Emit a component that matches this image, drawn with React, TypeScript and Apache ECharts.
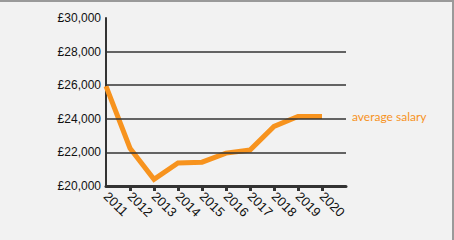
import React, { useEffect, useRef } from "react";
import * as echarts from "echarts";

const years = [2011, 2012, 2013, 2014, 2015, 2016, 2017, 2018, 2019, 2020];
const salary = [25950, 22250, 20400, 21370, 21420, 21960, 22140, 23550, 24140, 24140];
const gridValues = [22000, 24000, 26000, 28000];
const seriesName = "average salary";

export default function App() {
  const ref = useRef<HTMLDivElement>(null);
  useEffect(() => {
    if (!ref.current) return;
    const chart = echarts.init(ref.current, null, { renderer: "svg" });
    chart.setOption({
      animation: false,
      backgroundColor: "#f2f2f2",
      grid: { left: 106, right: 108, top: 18, bottom: 54 },
      xAxis: {
        type: "value",
        min: 2011,
        max: 2021,
        interval: 1,
        splitLine: { show: false },
        axisLine: { show: true, lineStyle: { color: "#333", width: 3 } },
        axisTick: {
          show: true,
          customValues: years.slice(1),
          length: 5,
          inside: false,
          lineStyle: { color: "#333", width: 3 },
        },
        axisLabel: {
          customValues: years,
          rotate: -45,
          margin: 8,
          color: "#111",
          fontFamily: "Liberation Sans, Arial, sans-serif",
          fontSize: 13,
          formatter: (v: number) => String(v),
        },
      },
      yAxis: {
        type: "value",
        min: 20000,
        max: 30000,
        interval: 2000,
        splitLine: { show: false },
        axisLine: { show: true, lineStyle: { color: "#333", width: 2 } },
        axisTick: { show: false },
        axisLabel: {
          margin: 5,
          color: "#111",
          fontFamily: "Liberation Sans, Arial, sans-serif",
          fontSize: 12,
          formatter: (v: number) => "£" + v.toLocaleString("en-GB"),
        },
      },
      series: [
        {
          type: "line",
          z: 1,
          data: [],
          silent: true,
          markLine: {
            silent: true,
            symbol: "none",
            label: { show: false },
            lineStyle: { color: "#333", width: 1.5, type: "solid" },
            data: gridValues.map((v) => ({ yAxis: v })),
          },
        },
        {
          type: "line",
          name: seriesName,
          z: 3,
          data: years.map((y, i) => [y, salary[i]]),
          showSymbol: false,
          lineStyle: { color: "#f7931e", width: 5, join: "miter" },
          itemStyle: { color: "#f7931e" },
          endLabel: {
            show: true,
            formatter: seriesName,
            distance: 30,
            color: "#f7931e",
            fontFamily: "Lato, sans-serif",
            fontSize: 12,
          },
        },
      ],
    });
    return () => chart.dispose();
  }, []);
  return (
    <div style={{ position: "fixed", left: 0, top: 0, width: 454, height: 240, background: "#f2f2f2" }}>
      <div ref={ref} style={{ position: "absolute", left: 0, top: 0, width: 454, height: 240 }} />
      <div style={{ position: "absolute", left: 0, top: 0, width: 454, height: 2, background: "#9a9a9a" }} />
      <div style={{ position: "absolute", left: 452, top: 0, width: 2, height: 240, background: "#9a9a9a" }} />
    </div>
  );
}
